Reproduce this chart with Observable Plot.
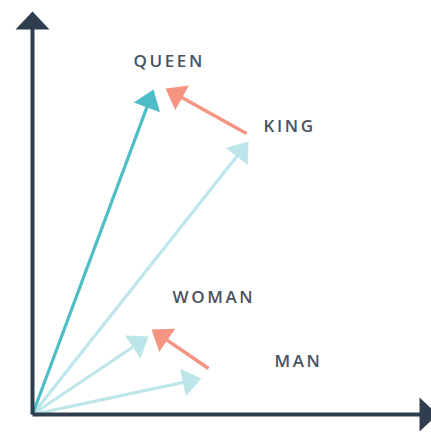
<!DOCTYPE html>
<html>
<head>
<meta charset="utf-8">
<script src="https://cdn.jsdelivr.net/npm/d3@7"></script>
<script src="https://cdn.jsdelivr.net/npm/@observablehq/plot@0.6"></script>
<style>
  html, body { margin: 0; padding: 0; background: #fff; }
  #chart svg text { letter-spacing: 2.6px; }
</style>
</head>
<body>
<div id="chart"></div>
<script>
// Word vectors (origin at 0,0)
const words = ["QUEEN", "KING", "WOMAN", "MAN"];
const wordTipX = [121, 216, 116, 169];
const wordTipY = [325, 273, 78, 36];
const wordLabelX = [101, 231, 140, 242];
const wordLabelY = [353, 288, 117, 53];
const wordColors = ["#4fbdc7", "#bde6ea", "#bde6ea", "#bde6ea"];

// Gender offset vectors (king→queen, man→woman)
const shiftStartX = [214, 176];
const shiftStartY = [281, 46];
const shiftTipX = [133, 119];
const shiftTipY = [326, 85];
const shiftColor = "#f69482";

// Axes
const axisTipX = [405, 0];
const axisTipY = [0, 403];
const axisColor = "#2f3e4e";
const labelColor = "#4a5361";

let headId = 0;
function arrowParts(x0, y0, x1, y1, color, headLen, headR, width) {
  const shafts = [], heads = [];
  x1.forEach((_, i) => {
    const sx = Array.isArray(x0) ? x0[i] : x0;
    const sy = Array.isArray(y0) ? y0[i] : y0;
    const dx = x1[i] - sx, dy = y1[i] - sy;
    const len = Math.hypot(dx, dy);
    const ux = dx / len, uy = dy / len;
    const c = Array.isArray(color) ? color[i] : color;
    shafts.push({sx, sy, ex: x1[i] - ux * headLen * 0.85, ey: y1[i] - uy * headLen * 0.85, color: c, width});
    const bx = x1[i] - ux * headLen, by = y1[i] - uy * headLen;
    const id = headId++;
    heads.push({id, color: c, x: x1[i], y: y1[i]});
    heads.push({id, color: c, x: bx - uy * headR, y: by + ux * headR});
    heads.push({id, color: c, x: bx + uy * headR, y: by - ux * headR});
  });
  return {shafts, heads};
}

function arrowMarks(parts) {
  return [
    Plot.link(parts.shafts, {x1: "sx", y1: "sy", x2: "ex", y2: "ey", stroke: d => d.color, strokeWidth: d => d.width}),
    Plot.line(parts.heads, {x: "x", y: "y", z: "id", fill: d => d.color, stroke: "none", curve: "linear-closed"})
  ];
}

const wordOrder = [1, 2, 3, 0]; // light vectors first, QUEEN on top
const marks = [];
for (const i of wordOrder) {
  marks.push(...arrowMarks(arrowParts(0, 0, [wordTipX[i]], [wordTipY[i]], wordColors[i], 19, 14, 3.2)));
}
marks.push(...arrowMarks(arrowParts(shiftStartX, shiftStartY, shiftTipX, shiftTipY, shiftColor, 19, 14, 3.5)));
marks.push(...arrowMarks(arrowParts(0, 0, axisTipX, axisTipY, axisColor, 18, 17, 4)));

const labels = words.map((w, i) => ({w, x: wordLabelX[i], y: wordLabelY[i]}));
marks.push(Plot.text(labels, {x: "x", y: "y", text: "w", textAnchor: "start", lineAnchor: "middle",
  fontSize: 17, fontWeight: 600, fill: labelColor}));

const chart = Plot.plot({
  width: 431,
  height: 433,
  margin: 0,
  x: {domain: [-32, 399], range: [0, 431], axis: null},
  y: {domain: [-19, 414], range: [433, 0], axis: null},
  style: {fontFamily: "'Open Sans', sans-serif", background: "#fff"},
  marks
});
document.getElementById("chart").append(chart);
</script>
</body>
</html>
